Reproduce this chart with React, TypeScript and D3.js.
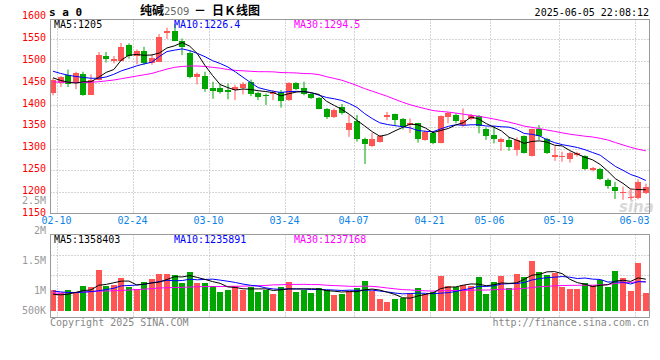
import React from "react";
import * as d3 from "d3";

// ---------- data ----------
const dates = [
  "02-10","02-11","02-12","02-13","02-14","02-17","02-18","02-19","02-20","02-21",
  "02-24","02-25","02-26","02-27","02-28","03-03","03-04","03-05","03-06","03-07",
  "03-10","03-11","03-12","03-13","03-14","03-17","03-18","03-19","03-20","03-21",
  "03-24","03-25","03-26","03-27","03-28","03-31","04-01","04-02","04-03","04-07",
  "04-08","04-09","04-10","04-11","04-14","04-15","04-16","04-17","04-18","04-21",
  "04-22","04-23","04-24","04-25","04-28","04-29","04-30","05-06","05-07","05-08",
  "05-09","05-12","05-13","05-14","05-15","05-16","05-19","05-20","05-21","05-22",
  "05-23","05-26","05-27","05-28","05-29","05-30","06-03","06-04","06-05"
];
const opens = [
  1428,1450,1468,1451,1470,1423,1458,1512,1501,1501,
  1536,1512,1523,1495,1499,1565,1570,1547,1519,1463,
  1466,1439,1438,1435,1434,1438,1453,1428,1422,1424,
  1430,1411,1451,1438,1426,1416,1391,1373,1396,1342,
  1363,1323,1307,1316,1373,1379,1367,1355,1358,1320,
  1336,1313,1373,1377,1355,1367,1375,1346,1331,1316,
  1320,1297,1329,1283,1344,1323,1282,1281,1276,1285,
  1283,1250,1253,1228,1213,1198,1187,1186,1198
];
const highs = [
  1461,1466,1481,1476,1476,1470,1521,1521,1512,1542,
  1541,1527,1533,1517,1562,1577,1586,1552,1526,1474,
  1476,1453,1449,1449,1446,1452,1458,1430,1426,1434,
  1434,1452,1452,1453,1428,1418,1393,1392,1402,1377,
  1377,1325,1336,1331,1384,1380,1370,1369,1359,1342,
  1339,1376,1384,1381,1392,1379,1377,1348,1352,1325,
  1326,1326,1330,1346,1354,1325,1306,1293,1293,1293,
  1285,1258,1256,1232,1224,1213,1209,1230,1220
];
const lows = [
  1422,1441,1441,1436,1421,1423,1456,1497,1495,1500,
  1506,1493,1491,1492,1498,1551,1546,1514,1461,1447,
  1430,1414,1426,1413,1411,1424,1420,1411,1400,1411,
  1394,1409,1434,1422,1414,1390,1368,1370,1378,1327,
  1316,1265,1304,1314,1365,1354,1344,1336,1314,1318,
  1310,1312,1358,1358,1350,1365,1335,1320,1312,1295,
  1295,1284,1289,1282,1320,1288,1272,1270,1268,1282,
  1251,1248,1228,1208,1185,1183,1182,1184,1196
];
const closes = [
  1458,1464,1448,1472,1423,1458,1515,1504,1505,1533,
  1512,1523,1495,1508,1556,1570,1547,1533,1465,1470,
  1436,1432,1430,1430,1442,1448,1426,1417,1420,1430,
  1410,1451,1436,1426,1416,1391,1373,1388,1381,1359,
  1322,1310,1322,1329,1377,1365,1350,1359,1323,1339,
  1312,1374,1382,1364,1365,1377,1352,1329,1322,1323,
  1304,1320,1291,1344,1330,1289,1285,1283,1291,1289,
  1253,1256,1230,1214,1203,1200,1190,1224,1213
];
// volume in thousands of lots
const volumesK = [
  902,757,902,757,1077,1033,1774,1091,1120,1425,
  1047,946,1251,1382,1613,1613,1556,1193,1687,1193,
  1193,1077,815,902,1077,902,1047,829,902,728,
  1047,1251,815,902,771,989,902,684,728,859,
  975,1295,859,510,379,510,567,757,989,728,
  829,1513,1077,1033,1120,1091,1469,728,1251,1513,
  989,1600,1469,2167,1687,1543,1657,1020,946,946,
  1208,1120,1325,1047,1731,1425,859,2080,771
];
// moving-average values before a full window exists
const ma5Head = [1462, 1456, 1452, 1450];
const ma10Head = [1477, 1472, 1468, 1465, 1463, 1461, 1461, 1464, 1470];
const ma30Head = [
  1453,1452,1452,1451,1451,1452,1453,1455,1457,1460,
  1463,1466,1469,1472,1477,1482,1486,1488,1489,1489,
  1488,1486,1484,1481,1479,1478,1477,1476,1476
];
const volMa5HeadK = [720, 690, 720, 800];
const volMa10HeadK = [860, 820, 790, 790, 810, 830, 870, 920, 980];
const volMa30HeadK = [
  760,770,780,790,810,830,850,860,870,885,
  900,920,940,960,990,1000,1010,1020,1030,1045,
  1050,1050,1055,1060,1065,1070,1080,1090,1100
];

const priceTicks = [1600, 1550, 1500, 1450, 1400, 1350, 1300, 1250, 1200, 1150];
const priceGrid = [1550, 1500, 1450, 1400, 1350, 1300, 1250, 1200];
const volTickValues = [2500000, 2000000, 1500000, 1000000, 500000];
const volTickLabels = ["2.5M", "2M", "1.5M", "1M", "500K"];
const tickDates = ["02-10","02-24","03-10","03-24","04-07","04-21","05-06","05-19","06-03"];

const priceLegend = ["MA5:1205", "MA10:1226.4", "MA30:1294.5"];
const volLegend = ["MA5:1358403", "MA10:1235891", "MA30:1237168"];

// ---------- style ----------
const RED = "#ff5555";
const GREEN = "#00a600";
const MONO = "'DejaVu Sans Mono', 'Liberation Mono', monospace";
const CJK = "'Noto Sans CJK SC', 'Noto Sans', sans-serif";

function movingAverage(values: number[], n: number, head: number[]): number[] {
  return values.map((_, i) =>
    i < n - 1 ? head[i] : (d3.mean(values.slice(i - n + 1, i + 1)) as number)
  );
}

export default function App() {
  const n = dates.length;
  const L = 50.5, R = 649.5;
  const pTop = 19.5, pBot = 213.5;
  const vTop = 234.5, vBot = 317.5;

  const x = d3.scaleLinear().domain([0, n - 1]).range([53, 645.8]);
  const yP = d3.scaleLinear().domain([1150, 1600]).range([214.2, 17.5]);
  const yV = d3.scaleLinear().domain([0, 1000]).range([310.7, 287.76]);
  const yVLabel = d3.scaleLinear().domain([1000000, 2000000]).range([294, 234]);

  const ma5 = movingAverage(closes, 5, ma5Head);
  const ma10 = movingAverage(closes, 10, ma10Head);
  const ma30 = movingAverage(closes, 30, ma30Head);
  const vma5 = movingAverage(volumesK, 5, volMa5HeadK);
  const vma10 = movingAverage(volumesK, 10, volMa10HeadK);
  const vma30 = movingAverage(volumesK, 30, volMa30HeadK);

  const priceLine = d3.line<number>().x((_, i) => x(i)).y((d) => yP(d));
  const volLine = d3.line<number>().x((_, i) => x(i)).y((d) => yV(d));

  const gridXs = tickDates.map((d) => Math.round(x(dates.indexOf(d)) + 4.3) + 0.5);
  const crisp = (v: number) => Math.round(v) + 0.5;

  const up = (i: number) => closes[i] >= opens[i];

  return (
    <svg
      width={660}
      height={360}
      style={{ position: "absolute", left: 0, top: 0, background: "#fff" }}
      xmlns="http://www.w3.org/2000/svg"
    >
      <rect x={0} y={0} width={660} height={360} fill="#fff" />

      {/* header */}
      <text x={49} y={15.5} fontFamily={MONO} fontSize={11} fontWeight="bold" fill="#000">
        s a 0
      </text>
      <text x={140} y={15} fontFamily={CJK} fontSize={12} fontWeight="bold" fill="#000">纯碱</text>
      <text x={164} y={15} fontFamily="'DejaVu Sans', sans-serif" fontSize={10} fill="#666">2509</text>
      <text x={194} y={15} fontFamily={CJK} fontSize={12} fontWeight="bold" fill="#000">－</text>
      <text x={212} y={15} fontFamily={CJK} fontSize={12} fontWeight="bold" fill="#000">日Ｋ线图</text>
      <text x={649} y={15.5} textAnchor="end" fontFamily={MONO} fontSize={10} fill="#000">
        2025-06-05 22:08:12
      </text>

      {/* price grid */}
      {priceGrid.map((v) => (
        <line key={"pg" + v} x1={L} x2={R} y1={crisp(yP(v))} y2={crisp(yP(v))}
          stroke="#aaa" strokeDasharray="1,2" />
      ))}
      {gridXs.map((gx, k) => (
        <line key={"pvx" + k} x1={gx} x2={gx} y1={pTop} y2={pBot} stroke="#aaa" strokeDasharray="1,2" />
      ))}
      {/* volume grid */}
      {[255.5, 275.5, 295.5].map((gy) => (
        <line key={"vg" + gy} x1={L} x2={R} y1={gy} y2={gy} stroke="#aaa" strokeDasharray="1,2" />
      ))}
      {gridXs.map((gx, k) => (
        <line key={"vvx" + k} x1={gx} x2={gx} y1={vTop} y2={vBot} stroke="#aaa" strokeDasharray="1,2" />
      ))}

      {/* candles */}
      {dates.map((d, i) => {
        const c = up(i) ? RED : GREEN;
        const cx = x(i);
        const top = yP(Math.max(opens[i], closes[i]));
        const bot = yP(Math.min(opens[i], closes[i]));
        const bx = Math.round(cx - 3);
        const wx = bx + 2.5;
        return (
          <g key={"c" + d}>
            <rect x={wx} y={yP(highs[i])} width={1} height={Math.max(1, yP(lows[i]) - yP(highs[i]))} fill={c} />
            <rect x={bx} y={Math.round(top)} width={6} height={Math.max(1, Math.round(bot) - Math.round(top))} fill={c} />
          </g>
        );
      })}

      {/* price MA lines */}
      <path d={priceLine(ma30) || ""} fill="none" stroke="#ff00ff" strokeWidth={1} />
      <path d={priceLine(ma10) || ""} fill="none" stroke="#0000ff" strokeWidth={1} />
      <path d={priceLine(ma5) || ""} fill="none" stroke="#000" strokeWidth={1} />

      {/* volume bars */}
      {dates.map((d, i) => {
        const bx = Math.round(x(i) - 3);
        const top = Math.round(yV(volumesK[i]));
        return (
          <rect key={"v" + d} x={bx} y={top} width={6} height={Math.round(yV(0)) - top}
            fill={up(i) ? RED : GREEN} />
        );
      })}
      <path d={volLine(vma30) || ""} fill="none" stroke="#ff00ff" strokeWidth={1} />
      <path d={volLine(vma10) || ""} fill="none" stroke="#0000ff" strokeWidth={1} />
      <path d={volLine(vma5) || ""} fill="none" stroke="#000" strokeWidth={1} />

      {/* watermark */}
      <g opacity={0.55}>
        <circle cx={633} cy={193} r={4} fill="none" stroke="#e88" strokeWidth={1.5} />
        <text x={619} y={212} fontFamily="'DejaVu Sans', sans-serif" fontSize={15} fontWeight="bold"
          fontStyle="italic" fill="#bbb">sina</text>
      </g>

      {/* frames */}
      <rect x={L} y={pTop} width={R - L} height={pBot - pTop} fill="none" stroke="#999" />
      <rect x={L} y={vTop} width={R - L} height={vBot - vTop} fill="none" stroke="#999" />

      {/* legends */}
      {priceLegend.map((t, k) => (
        <text key={"pl" + k} x={54 + k * 120} y={27.5} fontFamily={MONO} fontSize={10}
          fill={["#000", "#0000ff", "#ff00ff"][k]}>{t}</text>
      ))}
      {volLegend.map((t, k) => (
        <text key={"vl" + k} x={54 + k * 120} y={242.5} fontFamily={MONO} fontSize={10}
          fill={["#000", "#0000ff", "#ff00ff"][k]}>{t}</text>
      ))}

      {/* price axis labels */}
      {priceTicks.map((v) => (
        <text key={"pt" + v} x={46} y={Math.min(yP(v) + 1.6, 216)} textAnchor="end" fontFamily={MONO}
          fontSize={10} fill="#ff0000">{v}</text>
      ))}
      {/* volume axis labels */}
      {volTickValues.map((v, k) => (
        <text key={"vt" + v} x={46} y={Math.min(yVLabel(v), 314)} textAnchor="end" fontFamily={MONO}
          fontSize={10} fill="#999">{volTickLabels[k]}</text>
      ))}
      {/* date labels */}
      {tickDates.map((d, k) => (
        <text key={"dt" + d} x={Math.min(gridXs[k] - 1, 634.5)} y={224} textAnchor="middle" fontFamily={MONO}
          fontSize={10} fill="#0a84e8">{d}</text>
      ))}

      {/* footer */}
      <text x={50} y={326} fontFamily={MONO} fontSize={10} fill="#888">Copyright 2025 SINA.COM</text>
      <text x={649} y={326} textAnchor="end" fontFamily={MONO} fontSize={10} fill="#888">
        http://finance.sina.com.cn
      </text>
    </svg>
  );
}
